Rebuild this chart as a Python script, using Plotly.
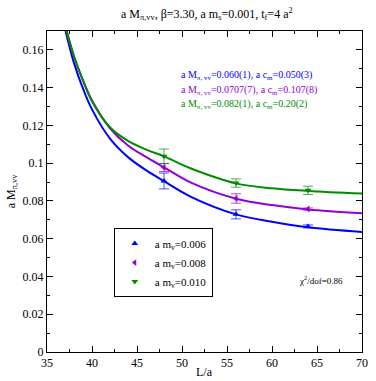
import plotly.graph_objects as go

# lattice sizes of the measured points
L_pts = [48, 56, 64]

# a M_pi,vv measurements per valence mass
m006_y = [0.0906, 0.0729, 0.0665]
m006_err = [0.0042, 0.0024, 0.0008]
m008_y = [0.0977, 0.0813, 0.0757]
m008_err = [0.0021, 0.0025, 0.0006]
m010_y = [0.1037, 0.0895, 0.0856]
m010_err = [0.0038, 0.0022, 0.0022]

# fit curves
L_fit = [37, 38, 39, 40, 42, 44, 46, 48, 51, 56, 60, 64, 70]
fit006 = [0.1712, 0.1530, 0.1395, 0.1285, 0.1130, 0.1032, 0.0963, 0.0905, 0.0822, 0.0729, 0.0690, 0.0661, 0.0636]
fit008 = [0.1735, 0.1565, 0.1438, 0.1332, 0.1185, 0.1094, 0.1033, 0.0978, 0.0897, 0.0812, 0.0778, 0.0755, 0.0735]
fit010 = [0.1728, 0.1566, 0.1438, 0.1328, 0.1190, 0.1118, 0.1072, 0.1036, 0.0972, 0.0893, 0.0867, 0.0853, 0.0839]

labels = ['a m<sub>v</sub>=0.006', 'a m<sub>v</sub>=0.008', 'a m<sub>v</sub>=0.010']
fit_text = ['a M<sub>π, vv</sub>=0.060(1), a c<sub>m</sub>=0.050(3)',
            'a M<sub>π, vv</sub>=0.0707(7), a c<sub>m</sub>=0.107(8)',
            'a M<sub>π, vv</sub>=0.082(1), a c<sub>m</sub>=0.20(2)']
colors = ['#0000ff', '#9400d3', '#008b00']
bar_colors = ['rgba(0,0,255,0.7)', 'rgba(148,0,211,0.7)', 'rgba(0,139,0,0.7)']
symbols = ['triangle-up', 'triangle-left', 'triangle-down']

FONT = "'Liberation Serif', 'Times New Roman', serif"

fig = go.Figure()

for fy, c in zip([fit006, fit008, fit010], colors):
    fig.add_trace(go.Scatter(x=L_fit, y=fy, mode='lines', line=dict(color=c, width=2, shape='spline'),
                             showlegend=False, hoverinfo='skip'))

for ys, es, c, bc, s, name in zip([m006_y, m008_y, m010_y], [m006_err, m008_err, m010_err],
                                  colors, bar_colors, symbols, labels):
    fig.add_trace(go.Scatter(x=L_pts, y=ys, mode='markers', name=name,
                             marker=dict(color=c, symbol=s, size=6),
                             error_y=dict(type='data', array=es, color=bc, thickness=1, width=5)))

for i, (t, c) in enumerate(zip(fit_text, colors)):
    fig.add_annotation(x=0.42, y=0.862 - i * 0.046, xref='paper', yref='paper', text=t, showarrow=False,
                       xanchor='left', yanchor='middle', font=dict(family=FONT, size=10, color=c))

fig.add_annotation(x=0.795, y=0.225, xref='paper', yref='paper', text='χ<sup>2</sup>/dof=0.86', showarrow=False,
                   xanchor='left', yanchor='middle', font=dict(family=FONT, size=9, color='black'))

fig.add_annotation(x=0.5, y=-0.062, xref='paper', yref='paper', text='L/a', showarrow=False,
                   xanchor='center', yanchor='middle', font=dict(family=FONT, size=12, color='black'))

axis_common = dict(showline=True, linecolor='black', linewidth=1, mirror='allticks', ticks='inside',
                   ticklen=6, tickcolor='black', showgrid=False, zeroline=False,
                   tickfont=dict(family=FONT, size=12, color='black'))

fig.update_xaxes(range=[35, 70], dtick=5, tick0=35,
                 minor=dict(ticks='inside', dtick=2.5, ticklen=3, tickcolor='black'),
                 **axis_common)
fig.update_yaxes(range=[0, 0.17], dtick=0.02, tick0=0,
                 minor=dict(ticks='inside', dtick=0.01, ticklen=3, tickcolor='black'),
                 title=dict(text='a M<sub>π,vv</sub>', font=dict(family=FONT, size=12, color='black'), standoff=4),
                 **axis_common)

fig.update_layout(
    width=376, height=381,
    margin=dict(l=47, r=8, t=31, b=29),
    paper_bgcolor='white', plot_bgcolor='white',
    title=dict(text='a M<sub>π,vv</sub>, β=3.30, a m<sub>s</sub>=0.001, t<sub>f</sub>=4 a<sup>2</sup>',
               x=0.55, xanchor='center', y=0.975, yanchor='top',
               font=dict(family=FONT, size=12, color='black')),
    legend=dict(x=0.212, y=0.386, xanchor='left', yanchor='top', bgcolor='white',
                bordercolor='black', borderwidth=1, font=dict(family=FONT, size=11, color='black'),
                itemwidth=30, tracegroupgap=0),
    showlegend=True,
)

# drop the browser's default page margin so the figure sits at the top-left corner
fig.write_html('out.html', config={'displayModeBar': False},
               post_script="document.body.style.margin='0';")
